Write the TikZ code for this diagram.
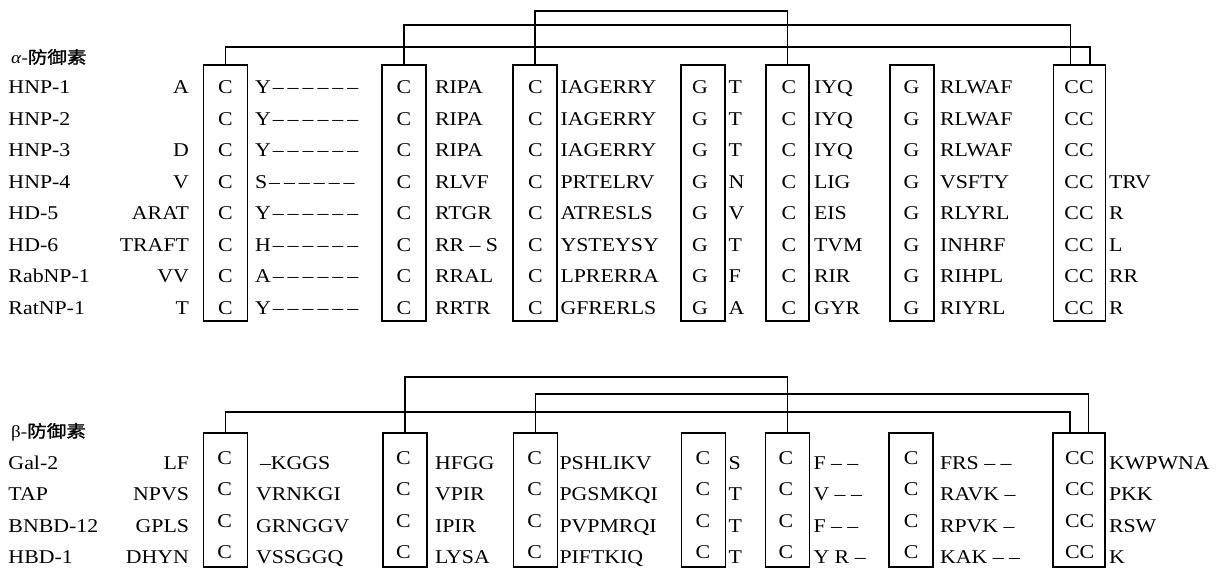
\documentclass[tikz,border=0pt]{standalone}
\usepackage{fontspec}
\setmainfont{Liberation Serif}[FakeStretch=1.12]
\newfontfamily\cjk[FakeStretch=1.15,FakeBold=1.2]{Noto Sans CJK SC}
\usetikzlibrary{calc}
\newcommand\sixdash{\kern2pt–\kern4pt–\kern4pt–\kern4pt–\kern4pt–\kern4pt–}
\begin{document}
\begin{tikzpicture}[x=1pt,y=-1pt,
  txt/.style={font=\fontsize{19.5}{23}\selectfont, inner sep=0pt, outer sep=0pt},
  hdr/.style={font=\fontsize{17}{20}\selectfont, inner sep=0pt, anchor=west},
  seqbox/.style={draw, line width=1.8pt, inner sep=0pt},
  link/.style={line width=1.4pt}]
\useasboundingbox (0,0) rectangle (1223,569);

% ---------- alpha defensins ----------
\node[hdr] (ha) at (11,57) {\textit{α}-{\cjk 防御素}};
\foreach \x/\w [count=\j] in {225.5/44,404/44,535/44,703/44,787.5/43,912/44,1079.5/52}
  \node[seqbox, minimum width=\w*1pt, minimum height=256pt] (A\j) at (\x,193) {};
\draw[link] (A3.north) |- ($(A5.north)+(0,-53)$) -- (A5.north);
\draw[link] (A2.north) |- ($(A7.north)+(-9,-39)$) -- ($(A7.north)+(-9,0)$);
\draw[link] (A1.north) |- ($(A7.north)+(10.5,-17)$) -- ($(A7.north)+(10.5,0)$);

\foreach \nm/\pre/\sa/\sb/\sc/\sd/\se/\sf/\sg [count=\i] in {
  HNP-1/A/Y\sixdash/RIPA/IAGERRY/T/IYQ/RLWAF/{},
  HNP-2/{}/Y\sixdash/RIPA/IAGERRY/T/IYQ/RLWAF/{},
  HNP-3/D/Y\sixdash/RIPA/IAGERRY/T/IYQ/RLWAF/{},
  HNP-4/V/S\sixdash/RLVF/PRTELRV/N/LIG/VSFTY/TRV,
  HD-5/ARAT/Y\sixdash/RTGR/ATRESLS/V/EIS/RLYRL/R,
  HD-6/TRAFT/H\sixdash/RR – S/YSTEYSY/T/TVM/INHRF/L,
  RabNP-1/VV/A\sixdash/RRAL/LPRERRA/F/RIR/RIHPL/RR,
  RatNP-1/T/Y\sixdash/RRTR/GFRERLS/A/GYR/RIYRL/R}
{
  \pgfmathsetmacro\yb{93.5+31.57*(\i-1)}
  \node[txt,anchor=base west] (an\i) at (8.5,\yb) {\nm};
  \node[txt,anchor=base east] (ap\i) at (189,\yb) {\pre};
  \foreach \x/\L [count=\j] in {225.5/C,404/C,535.5/C,700/G,789/C,911.5/G,1079/CC}
    \node[txt,anchor=base] (ai\i-\j) at (\x,\yb) {\L};
  \node[txt,anchor=base west] (as\i-1) at (255,\yb) {\sa};
  \node[txt,anchor=base west] (as\i-2) at (435,\yb) {\sb};
  \node[txt,anchor=base west] (as\i-3) at (560.5,\yb) {\sc};
  \node[txt,anchor=base west] (as\i-4) at (728.5,\yb) {\sd};
  \node[txt,anchor=base west] (as\i-5) at (814,\yb) {\se};
  \node[txt,anchor=base west] (as\i-6) at (940,\yb) {\sf};
  \node[txt,anchor=base west] (as\i-7) at (1109,\yb) {\sg};
}

% ---------- beta defensins ----------
\node[hdr] (hb) at (11,432) {β-{\cjk 防御素}};
\foreach \x/\w [count=\j] in {225.5/44,405/44,535.5/44,703.5/44,787.5/44,911/44,1079/52}
  \node[seqbox, minimum width=\w*1pt, minimum height=134pt] (B\j) at (\x,500) {};
\draw[link] (B2.north) |- ($(B5.north)+(0,-55)$) -- (B5.north);
\draw[link] (B3.north) |- ($(B7.north)+(9.5,-38)$) -- ($(B7.north)+(9.5,0)$);
\draw[link] (B1.north) |- ($(B7.north)+(-9,-20)$) -- ($(B7.north)+(-9,0)$);

\foreach \nm/\pre/\sa/\sb/\sc/\sd/\se/\sf/\sg [count=\i] in {
  Gal-2/LF/\kern4pt–KGGS/HFGG/PSHLIKV/S/F – –/FRS – –/KWPWNA,
  TAP/NPVS/VRNKGI/VPIR/PGSMKQI/T/V – –/RAVK –/PKK,
  BNBD-12/GPLS/GRNGGV/IPIR/PVPMRQI/T/F – –/RPVK –/RSW,
  HBD-1/DHYN/VSSGGQ/LYSA/PIFTKIQ/T/Y R –/KAK – –/K}
{
  \pgfmathsetmacro\yb{469.5+31.33*(\i-1)}
  \pgfmathsetmacro\yc{\yb-5}
  \node[txt,anchor=base west] (bn\i) at (8.5,\yb) {\nm};
  \node[txt,anchor=base east] (bp\i) at (189,\yb) {\pre};
  \foreach \x/\L [count=\j] in {224.6/C,403.3/C,534.6/C,702.8/C,785.8/C,911.2/C,1079.6/CC}
    \node[txt,anchor=base] (bi\i-\j) at (\x,\yc) {\L};
  \node[txt,anchor=base west] (bs\i-1) at (256,\yb) {\sa};
  \node[txt,anchor=base west] (bs\i-2) at (435,\yb) {\sb};
  \node[txt,anchor=base west] (bs\i-3) at (559.5,\yb) {\sc};
  \node[txt,anchor=base west] (bs\i-4) at (728.5,\yb) {\sd};
  \node[txt,anchor=base west] (bs\i-5) at (813.5,\yb) {\se};
  \node[txt,anchor=base west] (bs\i-6) at (940,\yb) {\sf};
  \node[txt,anchor=base west] (bs\i-7) at (1109,\yb) {\sg};
}
\end{tikzpicture}
\end{document}
